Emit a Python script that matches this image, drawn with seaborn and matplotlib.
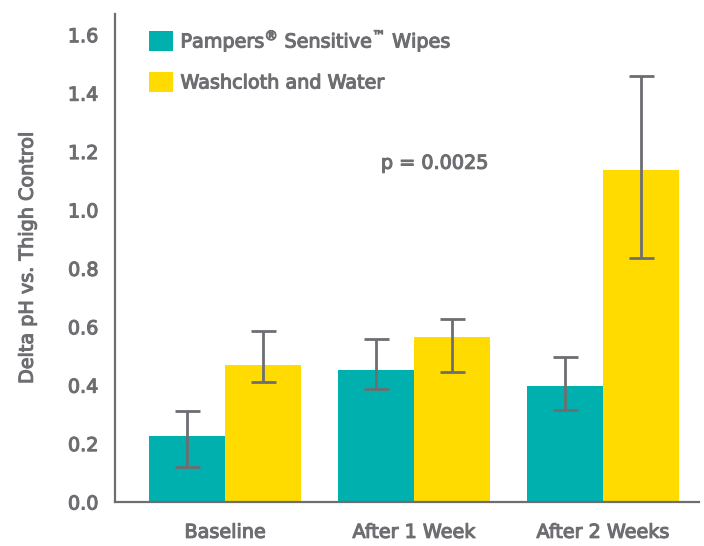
import matplotlib
matplotlib.use("Agg")
import matplotlib.pyplot as plt
import matplotlib.patheffects as pe
import seaborn as sns
import pandas as pd
import numpy as np

categories = ["Baseline", "After 1 Week", "After 2 Weeks"]
series = ["Pampers$^{®}$ Sensitive$^{™}$ Wipes", "Washcloth and Water"]
pampers = [0.225, 0.451, 0.397]
pampers_low = [0.121, 0.387, 0.314]
pampers_high = [0.311, 0.558, 0.495]
wash = [0.468, 0.565, 1.137]
wash_low = [0.411, 0.446, 0.835]
wash_high = [0.586, 0.627, 1.459]
yticks = [0.0, 0.2, 0.4, 0.6, 0.8, 1.0, 1.2, 1.4, 1.6]
annotation = "p = 0.0025"

TEAL = "#00B0AE"
YELLOW = "#FFDB00"
GRAY = "#6D6E71"
FONT = "DejaVu Sans"
FS = 13.8
EFF = [pe.withStroke(linewidth=0.8, foreground=GRAY)]

sns.set_style("white")
plt.rcParams["font.family"] = [FONT]
plt.rcParams["mathtext.fontset"] = "dejavusans"

df = pd.DataFrame({
    "cat": categories * 2,
    "series": [series[0]] * 3 + [series[1]] * 3,
    "val": pampers + wash,
})

fig = plt.figure(figsize=(7.04, 5.46), dpi=100)
ax = fig.add_axes([115 / 704, 44 / 546, 584 / 704, 488 / 546])
sns.barplot(data=df, x="cat", y="val", hue="series", order=categories,
            hue_order=series, palette=[TEAL, YELLOW], width=0.8,
            saturation=1, errorbar=None, ax=ax, linewidth=0)

lows = [pampers_low, wash_low]
highs = [pampers_high, wash_high]
vals = [pampers, wash]
bar_conts = list(ax.containers)
for i, cont in enumerate(bar_conts):
    xs = [p.get_x() + p.get_width() / 2 for p in cont.patches]
    v = np.array(vals[i])
    lo = v - np.array(lows[i])
    hi = np.array(highs[i]) - v
    ax.errorbar(xs, v, yerr=[lo, hi], fmt="none", ecolor=GRAY,
                elinewidth=2.0, capsize=9, capthick=2.0, zorder=5)

ax.set_xlim(-0.582, 2.508)
ax.set_ylim(0, 1.671)
ax.set_yticks(yticks)
ax.set_yticklabels([f"{t:.1f}" for t in yticks])
ax.set_xlabel("")
ylab = ax.set_ylabel("Delta pH vs. Thigh Control", fontsize=FS, color=GRAY)
ylab.set_path_effects(EFF)
ax.yaxis.set_label_coords(-0.134, 0.5)
for s in ["top", "right"]:
    ax.spines[s].set_visible(False)
for s in ["left", "bottom"]:
    ax.spines[s].set_color(GRAY)
    ax.spines[s].set_linewidth(1.6)
ax.tick_params(axis="both", colors=GRAY, labelcolor=GRAY, labelsize=FS,
               direction="out", width=1.6)
ax.tick_params(axis="x", length=9, pad=6)
ax.tick_params(axis="y", length=6, pad=6)
for lab in ax.get_xticklabels() + ax.get_yticklabels():
    lab.set_path_effects(EFF)

ax.text(0.825, 1.16, annotation, fontsize=FS, color=GRAY,
        ha="left", va="center", path_effects=EFF)

leg = ax.legend(loc="upper left", bbox_to_anchor=(0.035, 1.0), frameon=False,
                fontsize=FS, handlelength=1.25, handleheight=1.25,
                handletextpad=0.4, labelspacing=0.95, borderaxespad=0.3)
for t in leg.get_texts():
    t.set_color(GRAY)
    t.set_path_effects(EFF)

fig.savefig("out.png", dpi=100)
